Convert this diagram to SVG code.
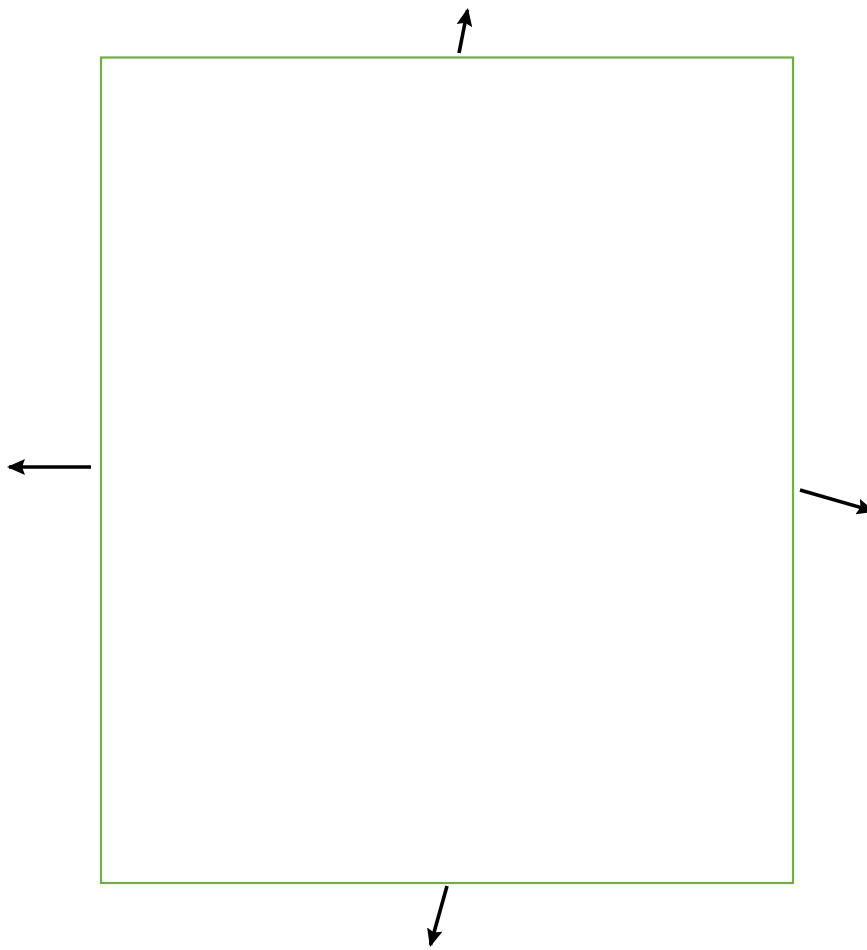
<svg xmlns="http://www.w3.org/2000/svg" width="867" height="950" viewBox="0 0 867 950">
<style>
.box{fill:#ffffff;stroke:#70AD47;stroke-width:2.2}
.arr{stroke:#000;stroke-width:3.6;fill:none;marker-end:url(#ah)}
</style>
<defs>
<marker id="ah" markerUnits="userSpaceOnUse" markerWidth="18" markerHeight="16" refX="16" refY="8" orient="auto">
<path d="M0,0 L18,8 L0,16 L3,8 Z" fill="#000"/>
</marker>
</defs>
<rect width="867" height="950" fill="#ffffff"/>
<g id="box"><rect class="box" x="101" y="57.5" width="692" height="825.5"/></g>
<g id="connectors">
<line class="arr" x1="459" y1="53" x2="467.5" y2="10"/>
<line class="arr" x1="91" y1="467" x2="9" y2="467"/>
<line class="arr" x1="800" y1="490" x2="873" y2="511"/>
<line class="arr" x1="447" y1="886" x2="430.5" y2="945"/>
</g>
</svg>
